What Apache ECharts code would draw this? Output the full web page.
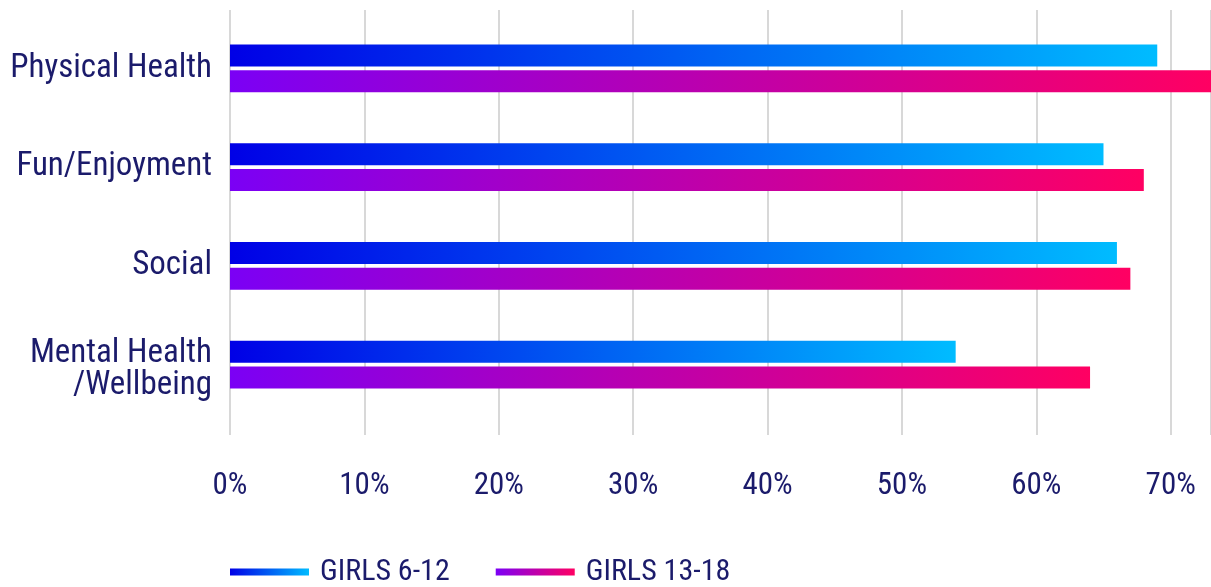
<!DOCTYPE html>
<html>
<head>
<meta charset="utf-8">
<script src="https://cdn.jsdelivr.net/npm/echarts@6/dist/echarts.min.js"></script>
<style>
  html, body { margin: 0; padding: 0; background: #fff; }
  #chart { width: 1211px; height: 587px; }
</style>
</head>
<body>
<div id="chart"></div>
<script>
const categories = ["Physical Health", "Fun/Enjoyment", "Social", "Mental Health\n/Wellbeing"];
const girls612 = [69, 65, 66, 54];
const girls1318 = [73, 68, 67, 64];
const seriesNames = ["GIRLS 6-12", "GIRLS 13-18"];

const FONT = "'Liberation Sans Narrow', 'Roboto Condensed', Roboto, sans-serif";
const TEXT = "#1b1b6b";

function grad(from, to) {
    return new echarts.graphic.LinearGradient(0, 0, 1, 0, [
        { offset: 0, color: from },
        { offset: 1, color: to },
    ]);
}

let myChart = echarts.init(document.querySelector("#chart"));
option = {
    animation: false,
    legend: {
        left: 230,
        bottom: 0,
        padding: 0,
        itemWidth: 79,
        itemHeight: 7,
        itemGap: 46,
        icon: "rect",
        textStyle: {
            fontFamily: FONT,
            fontSize: 30,
            color: TEXT,
            padding: [0, 0, 0, 6],
        },
        data: seriesNames,
    },
    grid: [
        // bars
        { left: 230, right: -1, top: 19, height: 395 },
        // gridlines + labels (taller than the bar area)
        { left: 230, right: -1, top: 10, bottom: 152 },
    ],
    xAxis: [
        { gridIndex: 0, type: "value", min: 0, max: 73, interval: 10, show: false },
        {
            gridIndex: 1,
            type: "value",
            min: 0,
            max: 73,
            interval: 10,
            axisLine: { show: false },
            axisTick: { show: false },
            splitLine: { show: true, lineStyle: { color: "#cbcbcb", width: 1.5 } },
            axisLabel: {
                showMaxLabel: false,
                margin: 36,
                formatter: "{value}%",
                fontFamily: FONT,
                fontSize: 31,
                color: TEXT,
            },
        },
    ],
    yAxis: [
        {
            gridIndex: 0,
            type: "category",
            inverse: true,
            data: categories,
            axisLine: { show: false },
            axisTick: { show: false },
            axisLabel: {
                margin: 18,
                fontFamily: FONT,
                fontSize: 33,
                lineHeight: 32,
                color: TEXT,
                // the two-line label sits a bit lower than its bars
                formatter: function (v) {
                    if (v.indexOf("\n") < 0) return v;
                    return "{pad|}\n" + v;
                },
                rich: {
                    pad: { height: 10, lineHeight: 10, fontSize: 1 },
                },
            },
        },
        { gridIndex: 1, type: "value", show: false },
    ],
    series: [
        {
            name: seriesNames[0],
            type: "bar",
            barWidth: 22,
            barGap: "18%",
            itemStyle: { color: grad("#0000e6", "#00bcff") },
            data: girls612,
        },
        {
            name: seriesNames[1],
            type: "bar",
            barWidth: 22,
            barGap: "18%",
            itemStyle: { color: grad("#7b00f5", "#ff0062") },
            data: girls1318,
        },
    ],
};
myChart.setOption(option);
window.addEventListener("resize", function () {
    myChart.resize();
});
</script>
</body>
</html>
